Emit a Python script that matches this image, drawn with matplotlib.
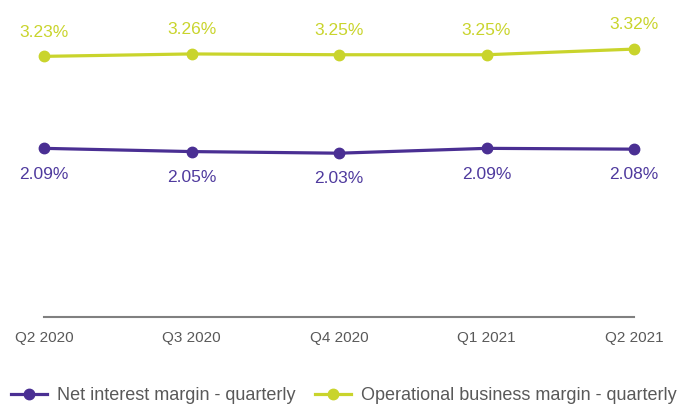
import matplotlib
matplotlib.use("Agg")
import matplotlib.pyplot as plt

quarters = ["Q2 2020", "Q3 2020", "Q4 2020", "Q1 2021", "Q2 2021"]
nim = [2.09, 2.05, 2.03, 2.09, 2.08]
obm = [3.23, 3.26, 3.25, 3.25, 3.32]

purple = "#4a2f93"
lime = "#c9d42c"
grey = "#595959"

plt.rcParams['font.family'] = ['Liberation Sans', 'DejaVu Sans']

fig = plt.figure(figsize=(6.8, 4.05), dpi=100)
# axes placed in pixel terms: x from 44 to 634, y=0 at row 317
ax = fig.add_axes([44/680, 1 - 317/405, 590/680, 290.5/405])
x = list(range(len(quarters)))

ax.plot(x, nim, color=purple, lw=2.3, marker='o', ms=7.5, clip_on=False,
        label="Net interest margin - quarterly")
ax.plot(x, obm, color=lime, lw=2.3, marker='o', ms=7.5, clip_on=False,
        label="Operational business margin - quarterly")

for xi, v in zip(x, nim):
    ax.annotate(f"{v:.2f}%", (xi, v), xytext=(0, -18.5), textcoords='offset points',
                ha='center', va='center', fontsize=12.5, color="#4f3a9e")
for xi, v in zip(x, obm):
    ax.annotate(f"{v:.2f}%", (xi, v), xytext=(0, 17.5), textcoords='offset points',
                ha='center', va='center', fontsize=12.5, color=lime)

ax.set_xlim(0, 4)
ax.set_ylim(0, 3.6)
ax.set_xticks(x)
ax.set_xticklabels(quarters, fontsize=11, color=grey)
ax.tick_params(axis='x', length=0, pad=10)
ax.set_yticks([])
for s in ['top', 'right', 'left']:
    ax.spines[s].set_visible(False)
ax.spines['bottom'].set_color("#808080")
ax.spines['bottom'].set_linewidth(1.5)

fig.legend(loc='center left', bbox_to_anchor=(0.005, 9/405), ncol=2, frameon=False,
           fontsize=13, labelcolor=grey, handlelength=2.0, columnspacing=1.1,
           borderaxespad=0, handletextpad=0.55)

fig.savefig("out.png", dpi=100)
